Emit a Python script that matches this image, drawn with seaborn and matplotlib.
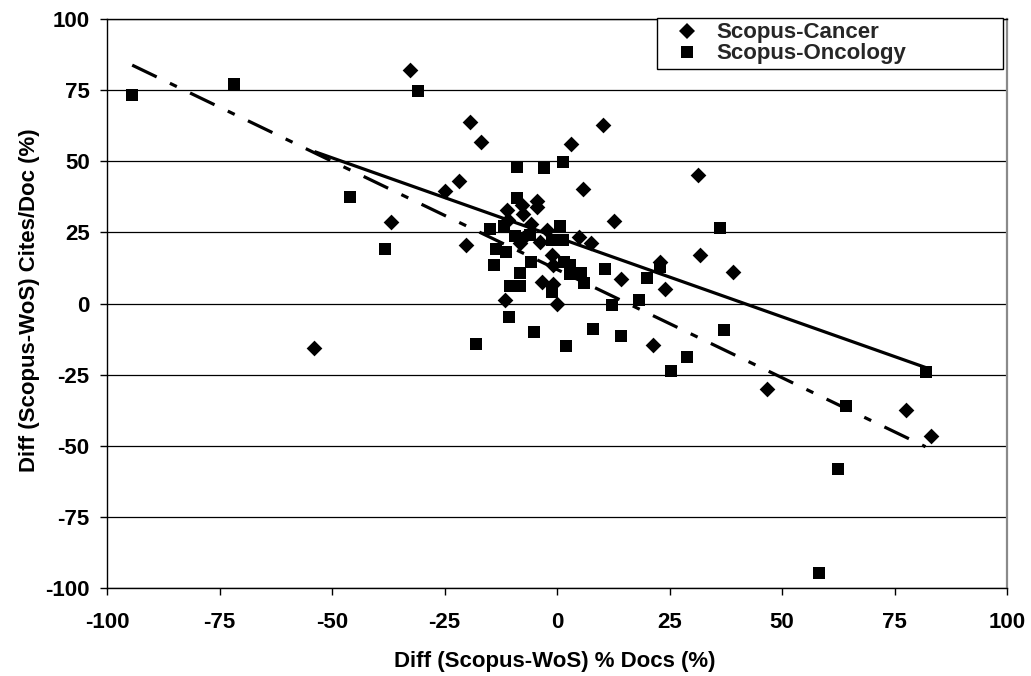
import numpy as np
import pandas as pd
import matplotlib
matplotlib.use("Agg")
import matplotlib.pyplot as plt
import seaborn as sns
from matplotlib.lines import Line2D
from matplotlib.font_manager import FontProperties

# ---- data ----
series_names = ["Scopus-Cancer", "Scopus-Oncology"]

cancer_x = [-32.6, -36.8, -53.9, -24.8, -19.4, -16.8, 10.3, 3.1, -21.8, 5.7,
            12.6, -4.5, -4.5, -7.7, -11.2, -7.5, -10.9, -5.7, -2.3, -8.3,
            -3.8, 4.8, 7.6, -20.2, -1.2, -1.0, -3.4, -0.8, -0.1, -11.6,
            14.2, 22.9, 23.9, 21.3, 31.3, 31.8, 39.0, 46.6, 77.5, 83.1, -7.5]
cancer_y = [82.2, 28.6, -15.8, 39.5, 63.7, 56.8, 62.6, 56.1, 43.0, 40.1,
            28.9, 36.0, 34.0, 34.5, 32.8, 31.3, 29.3, 28.1, 25.8, 21.3,
            21.6, 23.4, 21.3, 20.7, 17.2, 13.5, 7.6, 7.0, -0.1, 1.2,
            8.7, 14.5, 5.2, -14.6, 45.0, 17.2, 11.0, -29.9, -37.3, -46.4, 23.1]

onco_x = [-94.4, -71.8, -30.8, -46.0, -38.2, -8.8, -3.0, 1.4, -8.9, -11.8,
          -14.8, 0.7, -9.4, -6.0, -1.2, 1.3, -13.5, -11.4, -5.7, -14.1,
          1.6, 2.9, 2.8, 5.4, 6.1, 10.7, 19.9, -8.3, -1.2, -10.5,
          -8.3, 12.2, 18.3, -10.6, -5.1, 8.0, 14.3, -17.9, 2.0, 22.9,
          36.2, 37.1, 28.8, 25.4, 64.3, 81.9, 62.4, 58.3]
onco_y = [73.2, 77.3, 74.6, 37.4, 19.0, 48.0, 47.7, 49.8, 37.2, 27.4,
          26.2, 27.4, 23.7, 24.2, 22.3, 22.3, 19.0, 18.2, 14.6, 13.4,
          14.5, 13.7, 10.4, 10.8, 7.3, 12.2, 9.0, 10.8, 4.1, 6.3,
          6.1, -0.7, 1.4, -4.8, -10.1, -8.9, -11.5, -14.4, -14.8, 12.9,
          26.6, -9.4, -18.8, -23.8, -36.1, -24.1, -58.1, -94.9]

x_ticks = [-100, -75, -50, -25, 0, 25, 50, 75, 100]
y_ticks = [-100, -75, -50, -25, 0, 25, 50, 75, 100]

x_label = "Diff (Scopus-WoS) % Docs (%)"
y_label = "Diff (Scopus-WoS) Cites/Doc (%)"

# ---- style ----
sns.set_theme(style="white")
FAM = ["Liberation Sans", "DejaVu Sans"]
plt.rcParams["font.family"] = FAM
plt.rcParams["font.weight"] = "bold"
plt.rcParams["axes.labelweight"] = "bold"

W, H = 1031, 676
fig = plt.figure(figsize=(W / 100, H / 100), dpi=100)
left, right, top, bottom = 107, 1007, 19, 588
ax = fig.add_axes([left / W, 1 - bottom / H, (right - left) / W, (bottom - top) / H])

df_c = pd.DataFrame({"x": cancer_x, "y": cancer_y})
df_o = pd.DataFrame({"x": onco_x, "y": onco_y})

# horizontal gridlines
for yv in y_ticks:
    ax.axhline(yv, color="black", lw=0.9, zorder=1)

# trend lines
sns.regplot(data=df_c, x="x", y="y", scatter=False, ci=None, truncate=True, ax=ax,
            line_kws=dict(color="black", lw=2.3, solid_capstyle="butt", zorder=2))
sns.regplot(data=df_o, x="x", y="y", scatter=False, ci=None, truncate=True, ax=ax,
            line_kws=dict(color="black", lw=2.3, dashes=(8.5, 4.6, 2.4, 4.6),
                          dash_capstyle="butt", zorder=2))

# points
sns.scatterplot(data=df_c, x="x", y="y", marker="D", s=64, color="black",
                linewidth=0, ax=ax, zorder=3)
sns.scatterplot(data=df_o, x="x", y="y", marker="s", s=80, color="black",
                linewidth=0, ax=ax, zorder=3)

ax.set_xlim(-100, 100)
ax.set_ylim(-100, 100)
ax.set_xticks(x_ticks)
ax.set_yticks(y_ticks)
ax.set_xticklabels([str(v) for v in x_ticks])
ax.set_yticklabels([str(v) for v in y_ticks])
ax.grid(False)

tick_fp = FontProperties(family=FAM, weight="bold", size=16)
ax.tick_params(axis="both", which="major", direction="out", length=5, width=1,
               color="black", labelcolor="black", bottom=True, left=True)
ax.tick_params(axis="x", pad=12)
ax.tick_params(axis="y", pad=7.5)
for lab in ax.get_xticklabels() + ax.get_yticklabels():
    lab.set_fontproperties(tick_fp)

for side in ["left", "bottom", "top"]:
    ax.spines[side].set_color("black")
    ax.spines[side].set_linewidth(1.0)
ax.spines["right"].set_color("#8a8a8a")
ax.spines["right"].set_linewidth(1.6)

lab_fp = FontProperties(family=FAM, weight="bold", size=16)
ax.set_xlabel(x_label, fontproperties=lab_fp, color="black")
ax.set_ylabel(y_label, fontproperties=lab_fp, color="black")
ax.xaxis.label.set_va("center")
ax.yaxis.label.set_va("center")
ax.xaxis.set_label_coords(0.498, (bottom - 662) / (bottom - top))
ax.yaxis.set_label_coords((30 - left) / (right - left), 0.505)

# legend
handles = [
    Line2D([], [], ls="none", marker="D", markersize=7.8, color="black", markeredgewidth=0),
    Line2D([], [], ls="none", marker="s", markersize=8.8, color="black", markeredgewidth=0),
]
leg = ax.legend(handles, series_names, loc="upper left",
                bbox_to_anchor=(657 / W, 1 - 18 / H, (1003 - 657) / W, 0),
                bbox_transform=fig.transFigure, mode="expand", borderaxespad=0,
                frameon=True, fancybox=False, shadow=False, framealpha=1,
                edgecolor="black", facecolor="white",
                prop=FontProperties(family=FAM, weight="bold", size=16),
                borderpad=0.2, labelspacing=0.0, handlelength=2.3, handletextpad=0.15)
leg.get_frame().set_linewidth(1.0)
leg.set_zorder(10)

fig.savefig("out.png", dpi=100, facecolor="white")
